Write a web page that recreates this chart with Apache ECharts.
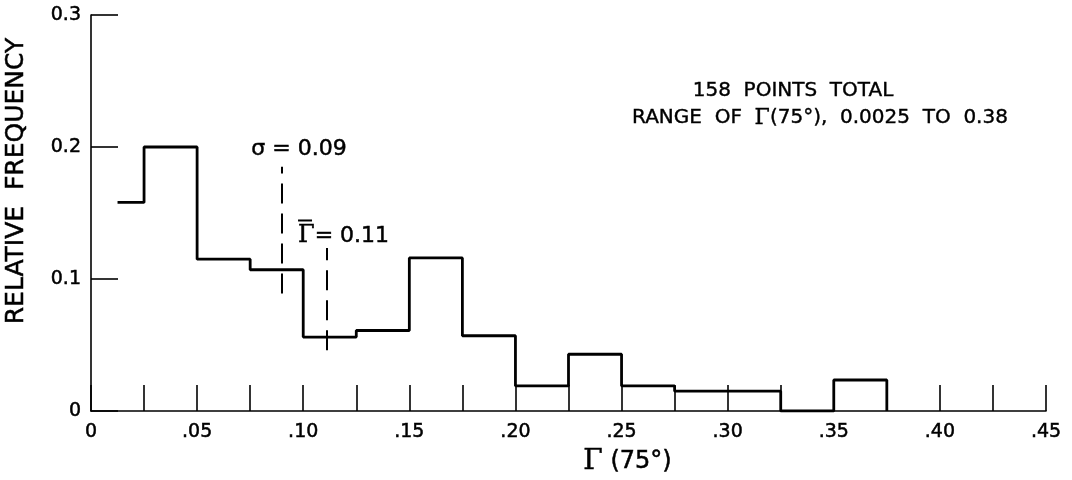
<!DOCTYPE html>
<html>
<head>
<meta charset="utf-8">
<script src="https://cdn.jsdelivr.net/npm/echarts@6/dist/echarts.min.js"></script>
<style>
  html, body { margin: 0; padding: 0; background: #fff; }
  #chart { width: 1072px; height: 480px; }
</style>
</head>
<body>
<div id="chart"></div>
<script>
// Histogram of Γ(75°): left edge of each bin and the relative frequency in it
const binEdges = [0.0125, 0.025, 0.05, 0.075, 0.10, 0.125, 0.15, 0.175, 0.20, 0.225, 0.25, 0.275, 0.30, 0.325, 0.35, 0.375];
const relFreq  = [0.158, 0.200, 0.115, 0.107, 0.056, 0.061, 0.116, 0.057, 0.019, 0.043, 0.019, 0.015, 0.015, 0.000, 0.0235];

// Axis tick labels
const xTickLabels = ['0', '.05', '.10', '.15', '.20', '.25', '.30', '.35', '.40', '.45'];
const yTickLabels = ['0', '0.1', '0.2', '0.3'];

// Dashed markers for the standard deviation and the mean: [x, yFrom, yTo]
const sigmaMark = [0.09, 0.089, 0.185];
const meanMark  = [0.111, 0.046, 0.1235];

// Notes in the upper right
const noteLines = ['158  POINTS  TOTAL', 'RANGE  OF  {g|Γ}(75°),  0.0025  TO  0.38'];

// Step outline: each bin holds its value to the next edge, then drops to zero
const histData = binEdges.map((x, i) => [x, i < relFreq.length ? relFreq[i] : 0]);

const FONT = 'DejaVu Sans';
const SERIF = 'DejaVu Serif';
const INK = '#000';
// a thin outline gives the lettering a slightly heavier stroke
const INK_EDGE = { textBorderColor: INK, textBorderWidth: 0.5 };

const chart = echarts.init(document.getElementById('chart'), null, { renderer: 'canvas' });

function markerLabel(text, dist) {
  return Object.assign({
    show: true,
    position: 'end',
    distance: dist,
    formatter: text,
    color: INK,
    fontFamily: FONT,
    fontSize: 22,
    padding: [0, 0, 0, 34],
    rich: {
      // bar drawn over the Γ of the mean
      bar: { width: 14, height: 2, lineHeight: 7, backgroundColor: INK, align: 'left', padding: [0, 0, 0, 0] },
      g: Object.assign({ fontFamily: SERIF, fontSize: 24, color: INK }, INK_EDGE),
      t: Object.assign({ fontFamily: FONT, fontSize: 22, color: INK }, INK_EDGE)
    }
  }, INK_EDGE);
}

chart.setOption({
  animation: false,
  backgroundColor: '#fff',
  textStyle: { fontFamily: FONT, color: INK },
  grid: { left: 91, right: 26, top: 15, bottom: 69, outerBoundsMode: 'none' },
  xAxis: {
    type: 'value',
    min: 0,
    max: 0.45,
    interval: 0.025,
    name: '{g|Γ} (75°)',
    nameLocation: 'middle',
    nameGap: 37,
    nameTextStyle: Object.assign({
      fontSize: 24,
      color: INK,
      padding: [0, 0, 0, 118],
      rich: { g: Object.assign({ fontFamily: SERIF, fontSize: 28, color: INK }, INK_EDGE) }
    }, INK_EDGE),
    axisLine: { show: true, lineStyle: { color: INK, width: 1.6 } },
    axisTick: { show: true, inside: true, length: 26, lineStyle: { color: INK, width: 1.6 } },
    splitLine: { show: false },
    axisLabel: Object.assign({
      color: INK,
      fontSize: 19,
      margin: 12,
      formatter: (v) => {
        const k = Math.round(v / 0.025);
        return k % 2 === 0 ? xTickLabels[k / 2] : '';
      }
    }, INK_EDGE)
  },
  yAxis: {
    type: 'value',
    min: 0,
    max: 0.3,
    interval: 0.1,
    name: 'RELATIVE  FREQUENCY',
    nameLocation: 'middle',
    nameRotate: 90,
    nameGap: 62,
    nameTextStyle: Object.assign({ fontSize: 25, color: INK, padding: [0, 0, 0, 64] }, INK_EDGE),
    axisLine: { show: true, lineStyle: { color: INK, width: 1.6 } },
    axisTick: { show: true, inside: true, length: 27, lineStyle: { color: INK, width: 1.6 } },
    splitLine: { show: false },
    axisLabel: Object.assign({
      color: INK,
      fontSize: 19,
      margin: 10,
      formatter: (v) => yTickLabels[Math.round(v / 0.1)]
    }, INK_EDGE)
  },
  series: [{
    type: 'line',
    step: 'end',
    data: histData,
    symbol: 'none',
    lineStyle: { color: INK, width: 2.8 },
    z: 3,
    markLine: {
      silent: true,
      symbol: 'none',
      animation: false,
      lineStyle: { color: INK, width: 2, type: [20, 10] },
      data: [
        [
          { coord: [sigmaMark[0], sigmaMark[1]] },
          { coord: [sigmaMark[0], sigmaMark[2]], label: markerLabel('{t|σ = 0.09}', 7) }
        ],
        [
          { coord: [meanMark[0], meanMark[1]] },
          { coord: [meanMark[0], meanMark[2]], label: markerLabel('{bar| }\n{g|Γ}{t|= 0.11}', 0) }
        ]
      ]
    }
  }],
  graphic: [
    {
      type: 'text',
      x: 793, y: 91,
      style: Object.assign({
        text: noteLines[0], fill: INK, font: '20px "DejaVu Sans"',
        align: 'center', verticalAlign: 'middle', stroke: INK, lineWidth: 0.4
      })
    },
    {
      type: 'text',
      x: 820, y: 118,
      style: {
        text: noteLines[1], fill: INK, font: '20px "DejaVu Sans"',
        align: 'center', verticalAlign: 'middle', stroke: INK, lineWidth: 0.4,
        rich: { g: { fontFamily: SERIF, fontSize: 22, fill: INK, stroke: INK, lineWidth: 0.4 } }
      }
    }
  ]
});
</script>
</body>
</html>
